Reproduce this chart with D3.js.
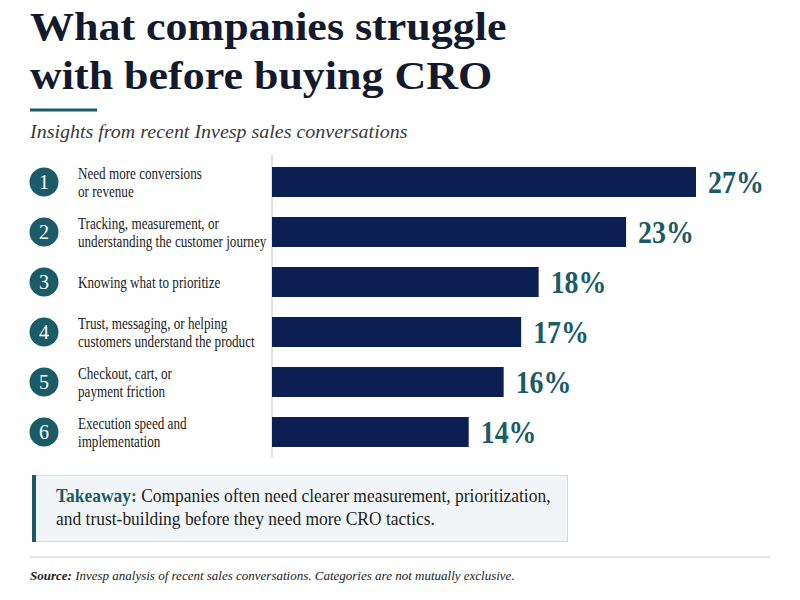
<!DOCTYPE html>
<html>
<head>
<meta charset="utf-8">
<script src="https://cdn.jsdelivr.net/npm/d3@7/dist/d3.min.js"></script>
<style>
  html, body { margin: 0; padding: 0; background: #ffffff; }
  svg { display: block; }
</style>
</head>
<body>
<svg id="chart" width="800" height="600"></svg>
<script>
const ranks = [1, 2, 3, 4, 5, 6];
const categoryLines = [
  ["Need more conversions", "or revenue"],
  ["Tracking, measurement, or", "understanding the customer journey"],
  ["Knowing what to prioritize"],
  ["Trust, messaging, or helping", "customers understand the product"],
  ["Checkout, cart, or", "payment friction"],
  ["Execution speed and", "implementation"]
];
const shares = [27, 23, 18, 17, 16, 14];
const titleLines = ["What companies struggle", "with before buying CRO"];
const subtitle = "Insights from recent Invesp sales conversations";
const takeawayLabel = "Takeaway:";
const takeawayLines = ["Companies often need clearer measurement, prioritization,", "and trust-building before they need more CRO tactics."];
const sourceLabel = "Source:";
const sourceText = "Invesp analysis of recent sales conversations. Categories are not mutually exclusive.";

const SERIF = "'Liberation Serif', 'Times New Roman', serif";
const NAVY = "#0b1f52";
const TEAL = "#1b5b67";
const INK = "#131a2e";

const svg = d3.select("#chart");

// Title
svg.append("g").selectAll("text").data(titleLines).join("text")
  .attr("transform", (d, i) => `translate(30,${40 + i * 49}) scale(1.1,1)`)
  .attr("font-family", SERIF).attr("font-weight", 700).attr("font-size", 40)
  .attr("fill", INK).text(d => d);

svg.append("rect").attr("x", 30).attr("y", 108.5).attr("width", 67).attr("height", 3).attr("fill", TEAL);

svg.append("text").attr("transform", "translate(30,138) scale(1.08,1)")
  .attr("font-family", SERIF).attr("font-style", "italic").attr("font-size", 18.5)
  .attr("fill", "#3a3a3a").text(subtitle);

// Scales
const y = d3.scaleBand().domain(ranks).range([157, 457]).paddingInner(0.4).paddingOuter(0.2);
const x = d3.scaleLinear().domain([2.75, 27]).range([272, 696]);

// axis baseline
svg.append("line").attr("x1", 272).attr("x2", 272).attr("y1", 155).attr("y2", 457)
  .attr("stroke", "#d4d6da").attr("stroke-width", 1.5);

const rows = svg.append("g").selectAll("g").data(ranks).join("g")
  .attr("transform", d => `translate(0,${y(d) + y.bandwidth() / 2})`);

rows.append("rect")
  .attr("x", x.range()[0]).attr("y", -y.bandwidth() / 2)
  .attr("width", (d, i) => x(shares[i]) - x.range()[0])
  .attr("height", y.bandwidth())
  .attr("fill", NAVY);

rows.append("text")
  .attr("transform", (d, i) => `translate(${x(shares[i]) + 12},0) scale(0.9,1)`)
  .attr("dy", "0.36em")
  .attr("font-family", SERIF).attr("font-weight", 700).attr("font-size", 31)
  .attr("fill", TEAL)
  .text((d, i) => shares[i] + "%");

rows.append("circle").attr("cx", 44).attr("cy", 0).attr("r", 14.5).attr("fill", TEAL);
rows.append("text").attr("x", 44).attr("y", 0).attr("dy", "0.35em")
  .attr("text-anchor", "middle").attr("font-family", SERIF).attr("font-size", 20)
  .attr("fill", "#ffffff").text(d => d);

rows.each(function(d, i) {
  const lines = categoryLines[i];
  const g = d3.select(this);
  const n = lines.length;
  g.selectAll("text.lbl").data(lines).join("text").attr("class", "lbl")
    .attr("transform", (l, j) => `translate(78,${(j - (n - 1) / 2) * 18}) scale(0.82,1)`)
    .attr("dy", "0.36em")
    .attr("font-family", SERIF).attr("font-size", 16)
    .attr("fill", "#1a1a1a").text(l => l);
});

// Takeaway box
svg.append("rect").attr("x", 32.5).attr("y", 475.5).attr("width", 535).attr("height", 66)
  .attr("fill", "#f1f5f7").attr("stroke", "#d3d9dd").attr("stroke-width", 1);
svg.append("rect").attr("x", 32).attr("y", 475).attr("width", 4).attr("height", 67).attr("fill", TEAL);

const tk = svg.append("text").attr("transform", "translate(56,502) scale(0.97,1)")
  .attr("font-family", SERIF).attr("font-size", 18).attr("fill", "#1e1e1e");
tk.append("tspan").attr("font-weight", 700).attr("fill", TEAL).text(takeawayLabel);
tk.append("tspan").text(" " + takeawayLines[0]);
svg.append("text").attr("transform", "translate(56,525) scale(0.97,1)")
  .attr("font-family", SERIF).attr("font-size", 18).attr("fill", "#1e1e1e").text(takeawayLines[1]);

svg.append("line").attr("x1", 30).attr("x2", 770).attr("y1", 557).attr("y2", 557)
  .attr("stroke", "#dcdfe2").attr("stroke-width", 1.5);

const src = svg.append("text").attr("x", 30).attr("y", 580)
  .attr("font-family", SERIF).attr("font-style", "italic").attr("font-size", 13).attr("fill", "#222");
src.append("tspan").attr("font-weight", 700).text(sourceLabel);
src.append("tspan").text(" " + sourceText);
</script>
</body>
</html>
